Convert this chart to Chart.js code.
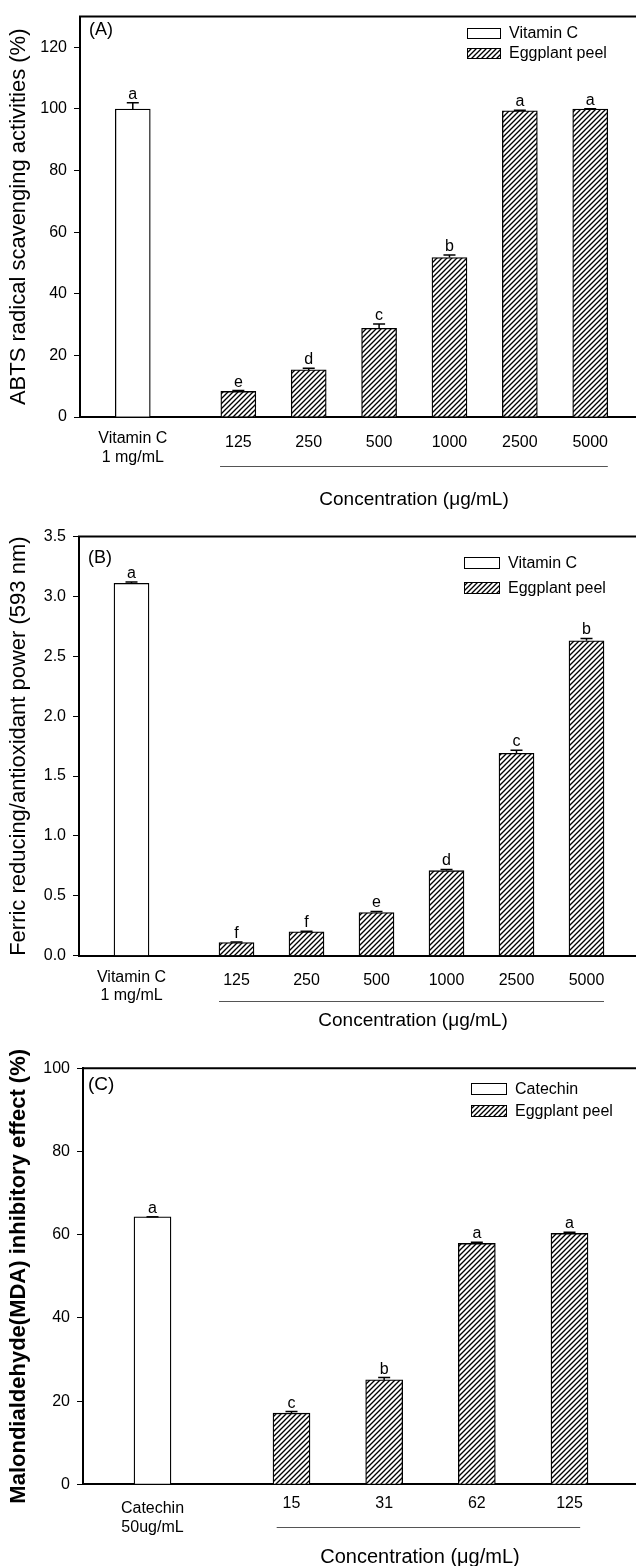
<!DOCTYPE html>
<html>
<head>
<meta charset="utf-8">
<script src="https://cdn.jsdelivr.net/npm/chart.js@4.4.1/dist/chart.umd.min.js"></script>
<style>
body { margin:0; background:#fff; width:636px; height:1566px; overflow:hidden; position:relative; }
canvas { position:absolute; left:0; }
</style>
</head>
<body>
<canvas id="chartA" width="660" height="520" style="top:0px"></canvas>
<canvas id="chartB" width="660" height="520" style="top:520px"></canvas>
<canvas id="chartC" width="660" height="526" style="top:1040px"></canvas>
<script>
// (A) ABTS radical scavenging
var abts_ctrl_label = ['Vitamin C', '1 mg/mL'];
var abts_conc = ['125', '250', '500', '1000', '2500', '5000'];
var abts_ctrl = [100.0];
var abts_ctrl_err = [2.0];
var abts_peel = [8.3, 15.3, 28.8, 51.8, 99.4, 100.0];
var abts_peel_err = [0.3, 0.5, 1.4, 0.8, 0.2, 0.1];
var abts_ctrl_letter = ['a'];
var abts_peel_letters = ['e', 'd', 'c', 'b', 'a', 'a'];
var abts_yticks = [0, 20, 40, 60, 80, 100, 120];

// (B) FRAP
var frap_ctrl_label = ['Vitamin C', '1 mg/mL'];
var frap_conc = ['125', '250', '500', '1000', '2500', '5000'];
var frap_ctrl = [3.11];
var frap_ctrl_err = [0.01];
var frap_peel = [0.11, 0.20, 0.36, 0.71, 1.69, 2.63];
var frap_peel_err = [0.005, 0.005, 0.01, 0.01, 0.025, 0.02];
var frap_ctrl_letter = ['a'];
var frap_peel_letters = ['f', 'f', 'e', 'd', 'c', 'b'];
var frap_yticks = [0, 0.5, 1.0, 1.5, 2.0, 2.5, 3.0, 3.5];

// (C) MDA inhibition
var mda_ctrl_label = ['Catechin', '50ug/mL'];
var mda_conc = ['15', '31', '62', '125'];
var mda_ctrl = [64.3];
var mda_ctrl_err = [0];
var mda_peel = [17.1, 25.1, 57.9, 60.3];
var mda_peel_err = [0.4, 0.55, 0.3, 0.3];
var mda_ctrl_letter = ['a'];
var mda_peel_letters = ['c', 'b', 'a', 'a'];
var mda_yticks = [0, 20, 40, 60, 80, 100];

var family = "'Liberation Sans', Arial, Helvetica, sans-serif";
Chart.defaults.font.family = family;
Chart.defaults.color = '#000';

function make_hatch() {
  var c = document.createElement('canvas');
  c.width = 5; c.height = 5;
  var g = c.getContext('2d');
  g.fillStyle = '#fff';
  g.fillRect(0, 0, 5, 5);
  g.strokeStyle = '#000';
  g.lineWidth = 1.35;
  g.beginPath();
  g.moveTo(-1, 6); g.lineTo(6, -1);
  g.moveTo(-1, 1); g.lineTo(1, -1);
  g.moveTo(4, 6); g.lineTo(6, 4);
  g.stroke();
  return g.createPattern(c, 'repeat');
}
var hatch = make_hatch();

// error bars, letters, frame, legend and the extra axis text
var extras = {
  id: 'extras',
  afterDatasetsDraw: function(chart) {
    var ctx = chart.ctx;
    var ys = chart.scales.y;
    ctx.save();
    ctx.strokeStyle = '#000';
    ctx.lineWidth = 1.5;
    ctx.fillStyle = '#000';
    ctx.font = '16px ' + family;
    ctx.textAlign = 'center';
    ctx.textBaseline = 'alphabetic';
    chart.data.datasets.forEach(function(ds, i) {
      var meta = chart.getDatasetMeta(i);
      meta.data.forEach(function(bar, j) {
        var top = ys.getPixelForValue(ds.data[j].y + ds.errors[j]);
        ctx.beginPath();
        ctx.moveTo(bar.x, bar.y);
        ctx.lineTo(bar.x, top);
        ctx.moveTo(bar.x - 6, top);
        ctx.lineTo(bar.x + 6, top);
        ctx.stroke();
        ctx.fillText(ds.letters[j], bar.x, top - 4);
      });
    });
    ctx.restore();
  },
  afterDraw: function(chart) {
    var p = chart.options.plugins.extras;
    var ctx = chart.ctx;
    var a = chart.chartArea;
    var xs = chart.scales.x;
    ctx.save();
    // top frame line
    ctx.strokeStyle = '#000';
    ctx.lineWidth = 2;
    ctx.beginPath();
    ctx.moveTo(a.left - 1, a.top);
    ctx.lineTo(a.right, a.top);
    ctx.stroke();

    // panel letter
    ctx.fillStyle = '#000';
    ctx.font = p.tagSize + 'px ' + family;
    ctx.textAlign = 'left';
    ctx.textBaseline = 'middle';
    ctx.fillText(p.tag, p.tagX, p.tagY);

    // legend
    ctx.font = '16px ' + family;
    ctx.lineWidth = 1;
    chart.data.datasets.forEach(function(ds, i) {
      var by = p.legY + i * p.legGap;
      ctx.fillStyle = ds.backgroundColor;
      ctx.fillRect(p.legX, by, p.legW, p.legH);
      ctx.strokeRect(p.legX + 0.5, by + 0.5, p.legW, p.legH);
      ctx.fillStyle = '#000';
      ctx.fillText(ds.label, p.legX + p.legW + 9, by + p.legH / 2 + 1);
    });

    // line under the concentrations
    var pos = chart.data.datasets[1].data.map(function(d) { return d.x; });
    var x1 = xs.getPixelForValue(pos[0] + p.lineFrom);
    var x2 = xs.getPixelForValue(pos[pos.length - 1] + p.lineTo);
    ctx.strokeStyle = '#555';
    ctx.lineWidth = 1;
    ctx.beginPath();
    ctx.moveTo(x1, p.lineY + 0.5);
    ctx.lineTo(x2, p.lineY + 0.5);
    ctx.stroke();

    ctx.fillStyle = '#000';
    ctx.textAlign = 'center';
    ctx.font = p.concSize + 'px ' + family;
    ctx.fillText('Concentration (\u03bcg/mL)', p.concX, p.concY);
    ctx.restore();
  }
};

function bar_panel(id, d, p) {
  // control at 0, then a half gap, then the extract concentrations
  var ctrl_x = [0];
  var peel_x = d.peel.map(function(v, i) { return i + 1.5; });
  var all_x = ctrl_x.concat(peel_x);
  var all_lbl = [d.ctrlLabel].concat(d.conc);

  const data = {
    datasets: [{
      label: d.ctrlName,
      data: d.ctrl.map(function(v, i) { return {x: ctrl_x[i], y: v}; }),
      errors: d.ctrlErr,
      letters: d.ctrlLetter,
      backgroundColor: '#fff',
      borderColor: '#000',
      borderWidth: 1.3,
      barThickness: p.barW,
      grouped: false
    }, {
      label: 'Eggplant peel',
      data: d.peel.map(function(v, i) { return {x: peel_x[i], y: v}; }),
      errors: d.peelErr,
      letters: d.peelLetters,
      backgroundColor: hatch,
      borderColor: '#000',
      borderWidth: 1.3,
      barThickness: p.barW,
      grouped: false
    }]
  };

  const config = {
    type: 'bar',
    data: data,
    options: {
      responsive: false,
      animation: false,
      events: [],
      layout: { padding: { top: p.top, right: p.right, left: 0, bottom: 0 } },
      plugins: {
        legend: { display: false },
        tooltip: { enabled: false },
        extras: p
      },
      scales: {
        x: {
          type: 'linear',
          min: -0.75,
          max: p.xmax,
          offset: false,
          afterFit: function(s) { s.height = p.xh; },
          afterBuildTicks: function(s) {
            s.ticks = all_x.map(function(v) { return {value: v}; });
          },
          grid: { display: false, drawTicks: false },
          border: { color: '#000', width: 2 },
          ticks: {
            autoSkip: false,
            maxRotation: 0,
            minRotation: 0,
            padding: p.tickPad,
            color: '#000',
            font: function(c) {
              return { size: 16, family: family, lineHeight: (c.index === 0 ? p.ctrlLH : p.numLH) + 'px' };
            },
            callback: function(value) {
              var k = all_x.indexOf(value);
              return k < 0 ? '' : all_lbl[k];
            }
          }
        },
        y: {
          min: 0,
          max: p.ymax,
          afterFit: function(s) { s.width = p.yw; },
          afterBuildTicks: function(s) {
            s.ticks = d.yticks.map(function(v) { return {value: v}; });
          },
          grid: { drawOnChartArea: false, drawTicks: true, tickLength: 6, color: '#000', lineWidth: 1 },
          border: { color: '#000', width: 2 },
          ticks: {
            padding: 7,
            color: '#000',
            font: { size: 16 },
            callback: function(v) { return p.decimals ? v.toFixed(p.decimals) : v; }
          },
          title: {
            display: true,
            text: d.ytitle,
            color: '#000',
            font: { size: p.ytSize, weight: p.ytWeight },
            padding: { top: p.ytPad, bottom: 0 }
          }
        }
      }
    },
    plugins: [extras]
  };
  return new Chart(document.getElementById(id), config);
}

bar_panel('chartA', {
  ctrlName: 'Vitamin C', ctrlLabel: abts_ctrl_label, conc: abts_conc,
  ctrl: abts_ctrl, ctrlErr: abts_ctrl_err, ctrlLetter: abts_ctrl_letter,
  peel: abts_peel, peelErr: abts_peel_err, peelLetters: abts_peel_letters,
  yticks: abts_yticks, ytitle: 'ABTS radical scavenging activities (%)'
}, {
  top: 8, right: 17, xh: 103, yw: 80, xmax: 7.25, ymax: 130, barW: 35, decimals: 0,
  tickPad: 12, ctrlLH: 19, numLH: 28, ytSize: 22, ytWeight: 'normal', ytPad: 6,
  tag: '(A)', tagX: 89, tagY: 30, tagSize: 18,
  legX: 467, legY: 28, legW: 33, legH: 10, legGap: 20,
  lineFrom: -0.26, lineTo: 0.25, lineY: 466, concX: 414, concY: 500, concSize: 19
});

bar_panel('chartB', {
  ctrlName: 'Vitamin C', ctrlLabel: frap_ctrl_label, conc: frap_conc,
  ctrl: frap_ctrl, ctrlErr: frap_ctrl_err, ctrlLetter: frap_ctrl_letter,
  peel: frap_peel, peelErr: frap_peel_err, peelLetters: frap_peel_letters,
  yticks: frap_yticks, ytitle: 'Ferric reducing/antioxidant power (593 nm)'
}, {
  top: 16, right: 21, xh: 84.3, yw: 79, xmax: 7.25, ymax: 3.5, barW: 35, decimals: 1,
  tickPad: 12.5, ctrlLH: 18.5, numLH: 24, ytSize: 22, ytWeight: 'normal', ytPad: 6,
  tag: '(B)', tagX: 88, tagY: 37.7, tagSize: 18,
  legX: 464, legY: 37, legW: 35, legH: 11, legGap: 25,
  lineFrom: -0.25, lineTo: 0.25, lineY: 481, concX: 413, concY: 501, concSize: 19
});

bar_panel('chartC', {
  ctrlName: 'Catechin', ctrlLabel: mda_ctrl_label, conc: mda_conc,
  ctrl: mda_ctrl, ctrlErr: mda_ctrl_err, ctrlLetter: mda_ctrl_letter,
  peel: mda_peel, peelErr: mda_peel_err, peelLetters: mda_peel_letters,
  yticks: mda_yticks, ytitle: 'Malondialdehyde(MDA) inhibitory effect (%)'
}, {
  top: 28.3, right: 21, xh: 81.7, yw: 83, xmax: 5.25, ymax: 100, barW: 37, decimals: 0,
  tickPad: 15.5, ctrlLH: 18.3, numLH: 7.4, ytSize: 22, ytWeight: 'bold', ytPad: 6,
  tag: '(C)', tagX: 88, tagY: 45, tagSize: 19,
  legX: 471, legY: 43, legW: 35, legH: 11, legGap: 22,
  lineFrom: -0.16, lineTo: 0.115, lineY: 487, concX: 420, concY: 517, concSize: 20
});
</script>
</body>
</html>
